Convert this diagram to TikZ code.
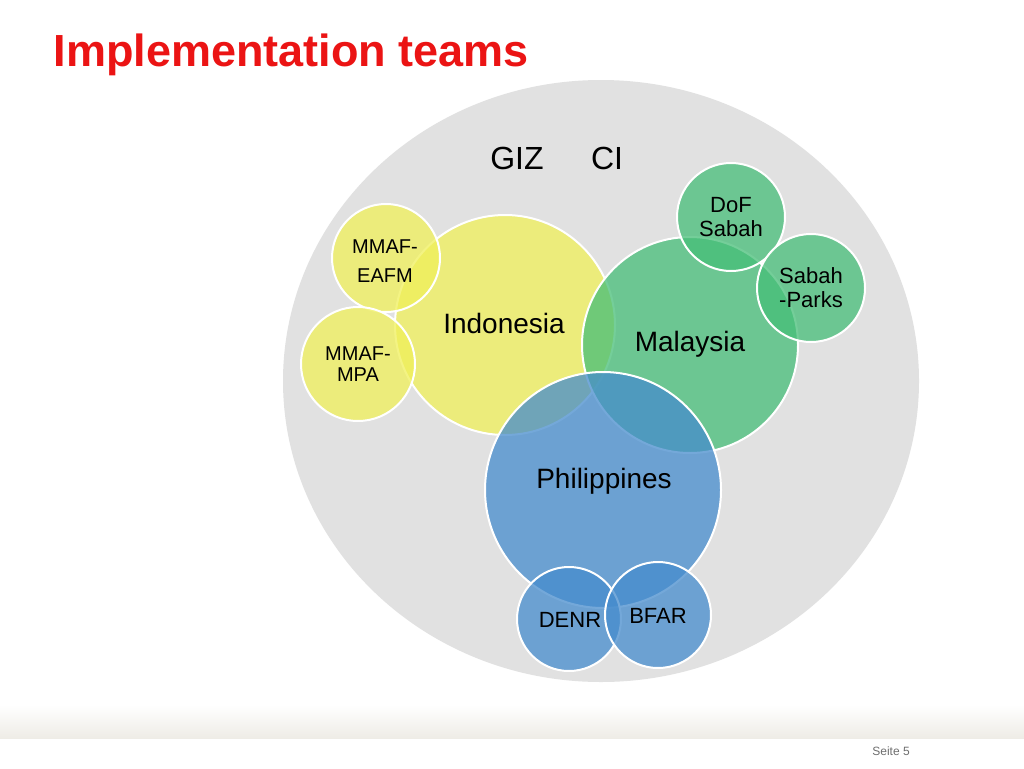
\documentclass[tikz,border=0pt]{standalone}
\usepackage{fontspec}
\setmainfont{Liberation Sans}
\definecolor{cyel}{RGB}{240,240,90}
\definecolor{cgrn}{RGB}{70,190,120}
\definecolor{cblu}{RGB}{70,140,205}
\definecolor{cgray}{RGB}{225,225,225}
\definecolor{cfoot}{RGB}{238,236,230}
\definecolor{ctitle}{RGB}{235,20,20}
\definecolor{cpg}{RGB}{110,110,110}
\begin{document}
\begin{tikzpicture}[x=1pt,y=-1pt,
 bub/.style={circle,draw=white,line width=2pt,fill opacity=0.75,text opacity=1,align=center,inner sep=0pt},
 yel/.style={bub,fill=cyel},
 grn/.style={bub,fill=cgrn},
 blu/.style={bub,fill=cblu},
 lbl/.style={font=\fontsize{22}{24}\selectfont,align=center},
 big/.style={font=\fontsize{28}{30}\selectfont}]
\useasboundingbox (0,0) rectangle (1024,768);
\fill[white] (0,0) rectangle (1024,768);
\shade[top color=white,bottom color=cfoot] (0,705) rectangle (1024,738);
\node[anchor=west,text=ctitle,font=\fontsize{45}{48}\selectfont\bfseries] (title) at (50,55) {Implementation teams};
\fill[cgray] (601,381) ellipse [x radius=318,y radius=301];
\node[font=\fontsize{32}{34}\selectfont] (giz) at (517,158) {GIZ};
\node[font=\fontsize{32}{34}\selectfont] (ci) at (607,158) {CI};
\node[yel,minimum size=220pt] (ind) at (505,325) {};
\node[grn,minimum size=216pt] (mal) at (690,345) {};
\node[blu,minimum size=236pt] (phi) at (603,490) {};
\node[grn,minimum size=108pt] (dof) at (731,217) {};
\node[grn,minimum size=108pt] (sp) at (811,288) {};
\node[yel,minimum size=108pt] (eafm) at (386,258) {};
\node[yel,minimum size=114pt] (mpa) at (358,364) {};
\node[blu,minimum size=104pt] (denr) at (569,619) {};
\node[blu,minimum size=106pt] (bfar) at (658,615) {};
\node[big] at (504,323) {Indonesia};
\node[big] at (690,344) {Malaysia};
\node[big] at (604,481) {Philippines};
\node[lbl] at (731,217) {DoF\\Sabah};
\node[lbl] at (811,288) {Sabah\\-Parks};
\node[font=\fontsize{20}{29}\selectfont,align=center] at (385,261) {MMAF-\\EAFM};
\node[font=\fontsize{20}{21}\selectfont,align=center] at (358,364) {MMAF-\\MPA};
\node[lbl] at (570,620) {DENR};
\node[lbl] at (658,616) {BFAR};
\node[text=cpg,font=\fontsize{12}{14}\selectfont] (pg) at (891,751) {Seite 5};
\end{tikzpicture}
\end{document}
